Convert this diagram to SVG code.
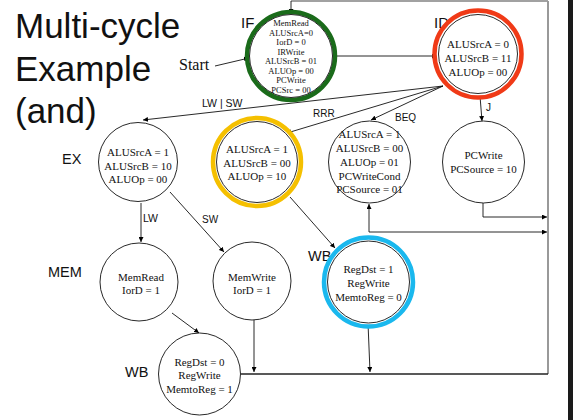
<svg xmlns="http://www.w3.org/2000/svg" width="573" height="420" viewBox="0 0 573 420">
<defs>
<marker id="ah" markerUnits="userSpaceOnUse" markerWidth="6" markerHeight="5" refX="5" refY="2.5" orient="auto">
<path d="M0,0 L5,2.5 L0,5 z" fill="#000"/>
</marker>
<style>
.t{font-family:"Liberation Serif","Times New Roman",serif;fill:#111;text-anchor:middle}
.s{font-family:"Liberation Sans",Arial,sans-serif;fill:#111}
.sf{font-family:"Liberation Serif","Times New Roman",serif;fill:#111}
.c{fill:#fff;stroke:#111;stroke-width:0.9}
.e{stroke:#111;stroke-width:0.9;fill:none}
.a{stroke:#111;stroke-width:0.9;fill:none;marker-end:url(#ah)}
</style>
</defs>
<rect width="573" height="420" fill="#fff"/>
<rect x="568" y="0" width="5" height="420" fill="#1a1a1a"/>

<g id="title" class="s" font-size="35">
<text x="15" y="38">Multi-cycle</text>
<text x="15" y="81">Example</text>
<text x="15" y="123">(and)</text>
</g>

<g id="labels">
<g class="s">
<text x="241" y="28" font-size="15">IF</text>
<text x="434" y="28" font-size="15">ID</text>
<text x="62" y="164" font-size="14.5">EX</text>
<text x="48" y="277" font-size="14.5">MEM</text>
<text x="308" y="261" font-size="14.5">WB</text>
<text x="125" y="377" font-size="14.5">WB</text>
<text x="202" y="107" font-size="10.5">LW | SW</text>
<text x="313" y="117" font-size="10">RRR</text>
<text x="395" y="121" font-size="10">BEQ</text>
<text x="486" y="111" font-size="10">J</text>
<text x="143" y="222" font-size="10.5">LW</text>
<text x="202" y="223" font-size="10">SW</text>
</g>
<text class="sf" x="179" y="70" font-size="16">Start</text>
</g>

<g id="connectors">
<path d="M291,1 L548,1" stroke="#444" stroke-width="1.2" fill="none"/>
<path d="M548,1 L548,374" stroke="#999" stroke-width="2" fill="none"/>
<path d="M241,374 L548,374" stroke="#222" stroke-width="1.3" fill="none"/>
<path class="a" d="M291,1 L291,14"/>
<path class="a" d="M215,66 L249,58"/>
<path class="a" d="M333,56 L437,56"/>
<path class="a" d="M443,86 L143,120"/>
<path class="a" d="M443,86 L287,133"/>
<path class="a" d="M443,86 L371,120"/>
<path class="a" d="M480,96 L482,121"/>
<path class="a" d="M141,203 L141,242"/>
<path class="a" d="M170,192 L224,252"/>
<path class="a" d="M290,197 L335,248"/>
<path class="a" d="M172,313 L199,333"/>
<path class="a" d="M254,320 L254,372"/>
<path class="a" d="M368,323 L370,372"/>
<path class="a" d="M483,203 L483,217 L547,217"/>
<path class="a" d="M369,232 L547,232"/>
<path class="a" d="M369,232 L369,204"/>
</g>

<g id="IF">
<circle cx="291" cy="56" r="44" fill="#fff" stroke="#1a6b1a" stroke-width="4.5"/>
<circle cx="291" cy="56" r="41.5" class="c"/>
<g class="t" font-size="8.5">
<text x="291" y="26">MemRead</text>
<text x="291" y="35.5">ALUSrcA=0</text>
<text x="291" y="45">IorD = 0</text>
<text x="291" y="54.5">IRWrite</text>
<text x="291" y="64">ALUSrcB = 01</text>
<text x="291" y="73.5">ALUOp = 00</text>
<text x="291" y="83">PCWrite</text>
<text x="291" y="92.5">PCSrc = 00</text>
</g>
</g>

<g id="ID">
<circle cx="478" cy="54" r="43.5" fill="#fff" stroke="#f03a17" stroke-width="4.5"/>
<circle cx="478" cy="54" r="39.5" class="c"/>
<g class="t" font-size="11">
<text x="478" y="48">ALUSrcA = 0</text>
<text x="478" y="62">ALUSrcB = 11</text>
<text x="478" y="76">ALUOp = 00</text>
</g>
</g>

<g id="EX_mem">
<circle cx="138" cy="162" r="39.5" class="c"/>
<g class="t" font-size="11">
<text x="138" y="156">ALUSrcA = 1</text>
<text x="138" y="169.5">ALUSrcB = 10</text>
<text x="138" y="183">ALUOp = 00</text>
</g>
</g>

<g id="EX_r">
<circle cx="257" cy="162" r="44" fill="#fff" stroke="#f5c000" stroke-width="4.5"/>
<circle cx="257" cy="162" r="40.5" class="c"/>
<g class="t" font-size="11">
<text x="257" y="153">ALUSrcA = 1</text>
<text x="257" y="166.5">ALUSrcB = 00</text>
<text x="257" y="180">ALUOp = 10</text>
</g>
</g>

<g id="EX_beq">
<circle cx="369.5" cy="162" r="41" class="c"/>
<g class="t" font-size="11">
<text x="369.5" y="138">ALUSrcA = 1</text>
<text x="369.5" y="152">ALUSrcB = 00</text>
<text x="369.5" y="166">ALUOp = 01</text>
<text x="369.5" y="179.5">PCWriteCond</text>
<text x="369.5" y="193">PCSource = 01</text>
</g>
</g>

<g id="EX_j">
<circle cx="483.5" cy="162" r="41" class="c"/>
<g class="t" font-size="11">
<text x="483.5" y="159">PCWrite</text>
<text x="483.5" y="173">PCSource = 10</text>
</g>
</g>

<g id="MEM_read">
<circle cx="139" cy="282" r="39" class="c"/>
<g class="t" font-size="11">
<text x="141" y="281">MemRead</text>
<text x="141" y="293.5">IorD = 1</text>
</g>
</g>

<g id="MEM_write">
<circle cx="252" cy="281" r="39" class="c"/>
<g class="t" font-size="11">
<text x="252" y="281">MemWrite</text>
<text x="252" y="293.5">IorD = 1</text>
</g>
</g>

<g id="WB_r">
<circle cx="368.5" cy="282" r="44.5" fill="#fff" stroke="#1ab8ee" stroke-width="4.5"/>
<circle cx="368.5" cy="282" r="41" class="c"/>
<g class="t" font-size="11">
<text x="368.5" y="273">RegDst = 1</text>
<text x="368.5" y="286.5">RegWrite</text>
<text x="368.5" y="300.5">MemtoReg = 0</text>
</g>
</g>

<g id="WB_lw">
<circle cx="199.5" cy="374" r="41" class="c"/>
<g class="t" font-size="11">
<text x="199.5" y="366">RegDst = 0</text>
<text x="199.5" y="378.5">RegWrite</text>
<text x="199.5" y="392.5">MemtoReg = 1</text>
</g>
</g>
</svg>
